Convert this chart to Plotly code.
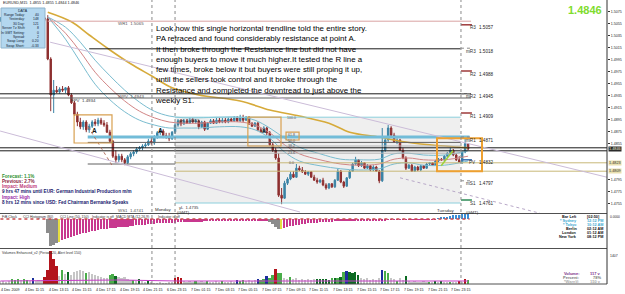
import plotly.graph_objects as go

# ---------------- DATA ----------------
bar_index = list(range(159))

open_ = [1.5061,1.5063,1.5061,1.5059,1.5063,1.5064,1.5063,1.5059,1.5061,1.5063,1.5064,1.5063,1.5061,1.5063,1.5064,1.5063,
         1.5063,1.4996,1.4936,1.4944,1.4941,1.4946,1.4944,1.4948,1.4936,1.4923,
         1.4904,1.4891,1.4883,1.4891,1.4878,1.4884,1.4891,1.4888,1.4894,1.4889,
         1.4886,1.4874,1.4859,1.4834,1.4828,1.4834,1.4828,1.4823,1.4833,1.4838,
         1.4841,1.4846,1.4848,1.4851,1.4853,1.4859,1.4856,1.4866,1.4873,1.4876,
         1.4868,1.4866,1.4863,1.4874,1.4886,1.4893,1.4888,1.4893,1.4889,1.4894,
         1.4891,1.4893,1.4883,1.4891,1.4879,1.4889,1.4893,1.4889,1.4894,1.4891,
         1.4894,1.4891,1.4896,1.4893,1.4898,1.4893,1.4899,1.4894,1.4899,1.4888,
         1.4884,1.4889,1.4878,1.4874,1.4881,1.4873,1.4853,1.4844,1.4831,1.4769,
         1.4764,1.4789,1.4796,1.4804,1.4799,1.4814,1.4811,1.4808,1.4804,1.4808,
         1.4799,1.4794,1.4791,1.4794,1.4786,1.4781,1.4788,1.4783,1.4794,1.4809,
         1.4791,1.4784,1.4798,1.4809,1.4821,1.4828,1.4818,1.4823,1.4814,1.4818,
         1.4811,1.4816,1.4809,1.4793,1.4844,1.4861,1.4881,1.4869,1.4858,1.4861,
         1.4844,1.4831,1.4814,1.4819,1.4809,1.4816,1.4811,1.4818,1.4814,1.4821,
         1.4823,1.4819,1.4826,1.4829,1.4828,1.4834,1.4839,1.4844,1.4836,1.4828,
         1.4824,1.4841,1.4855]
high_ = [1.5066,1.5066,1.5064,1.5064,1.5066,1.5068,1.5066,1.5063,1.5064,1.5066,1.5068,1.5066,1.5064,1.5066,1.5068,1.5066,
         1.5069,1.4999,1.4961,1.4951,1.4949,1.4951,1.4949,1.4951,1.4939,1.4926,
         1.4908,1.4898,1.4894,1.4894,1.4888,1.4894,1.4896,1.4898,1.4898,1.4894,
         1.4891,1.4878,1.4861,1.4844,1.4838,1.4838,1.4831,1.4836,1.4841,1.4844,
         1.4849,1.4851,1.4854,1.4856,1.4863,1.4864,1.4869,1.4876,1.4879,1.4879,
         1.4873,1.4873,1.4876,1.4889,1.4896,1.4896,1.4896,1.4896,1.4898,1.4898,
         1.4896,1.4894,1.4893,1.4893,1.4891,1.4896,1.4896,1.4898,1.4898,1.4898,
         1.4898,1.4899,1.4899,1.4901,1.4901,1.4903,1.4903,1.4901,1.4901,1.4891,
         1.4891,1.4891,1.4881,1.4884,1.4883,1.4876,1.4856,1.4848,1.4839,1.4781,
         1.4793,1.4799,1.4808,1.4809,1.4821,1.4818,1.4816,1.4811,1.4809,1.4809,
         1.4803,1.4798,1.4796,1.4798,1.4789,1.4789,1.4789,1.4796,1.4813,1.4811,
         1.4793,1.4799,1.4811,1.4823,1.4833,1.4829,1.4826,1.4824,1.4821,1.4819,
         1.4819,1.4818,1.4811,1.4881,1.4863,1.4886,1.4884,1.4873,1.4864,1.4863,
         1.4848,1.4834,1.4821,1.4821,1.4818,1.4818,1.4819,1.4819,1.4823,1.4824,
         1.4824,1.4828,1.4831,1.4831,1.4836,1.4841,1.4848,1.4846,1.4839,1.4834,
         1.4826,1.4863,1.4855]
low_ = [1.5058,1.5059,1.5058,1.5056,1.5059,1.5061,1.5058,1.5056,1.5058,1.5059,1.5061,1.5059,1.5058,1.5059,1.5061,1.5059,
        1.4994,1.4909,1.4906,1.4939,1.4938,1.4941,1.4939,1.4934,1.4921,1.4901,
        1.4884,1.4879,1.4878,1.4874,1.4873,1.4881,1.4884,1.4884,1.4886,1.4883,
        1.4873,1.4856,1.4831,1.4823,1.4824,1.4824,1.4819,1.4821,1.4829,1.4834,
        1.4838,1.4843,1.4844,1.4848,1.4851,1.4853,1.4853,1.4863,1.4869,1.4864,
        1.4863,1.4859,1.4861,1.4871,1.4883,1.4884,1.4886,1.4888,1.4888,1.4889,
        1.4888,1.4879,1.4881,1.4876,1.4878,1.4888,1.4888,1.4888,1.4889,1.4889,
        1.4889,1.4889,1.4891,1.4891,1.4891,1.4891,1.4891,1.4893,1.4886,1.4883,
        1.4883,1.4876,1.4873,1.4873,1.4869,1.4851,1.4841,1.4828,1.4766,1.4754,
        1.4763,1.4786,1.4794,1.4798,1.4798,1.4809,1.4806,1.4803,1.4801,1.4798,
        1.4793,1.4788,1.4789,1.4784,1.4778,1.4779,1.4781,1.4781,1.4793,1.4789,
        1.4781,1.4783,1.4796,1.4808,1.4819,1.4816,1.4816,1.4813,1.4813,1.4809,
        1.4809,1.4808,1.4789,1.4791,1.4841,1.4858,1.4868,1.4856,1.4854,1.4843,
        1.4829,1.4811,1.4813,1.4808,1.4808,1.4809,1.4809,1.4813,1.4813,1.4818,
        1.4818,1.4818,1.4824,1.4826,1.4826,1.4833,1.4838,1.4834,1.4826,1.4823,
        1.4821,1.4839,1.4844]
close_ = [1.5063,1.5061,1.5059,1.5063,1.5064,1.5063,1.5059,1.5061,1.5063,1.5064,1.5063,1.5061,1.5063,1.5064,1.5063,1.5063,
          1.4996,1.4936,1.4944,1.4941,1.4946,1.4944,1.4948,1.4936,1.4923,1.4904,
          1.4891,1.4883,1.4891,1.4878,1.4884,1.4891,1.4888,1.4894,1.4889,1.4886,
          1.4874,1.4859,1.4834,1.4828,1.4834,1.4828,1.4823,1.4833,1.4838,1.4841,
          1.4846,1.4848,1.4851,1.4853,1.4859,1.4856,1.4866,1.4873,1.4876,1.4868,
          1.4866,1.4863,1.4874,1.4886,1.4893,1.4888,1.4893,1.4889,1.4894,1.4891,
          1.4893,1.4883,1.4891,1.4879,1.4889,1.4893,1.4889,1.4894,1.4891,1.4894,
          1.4891,1.4896,1.4893,1.4898,1.4893,1.4899,1.4894,1.4899,1.4888,1.4884,
          1.4889,1.4878,1.4874,1.4881,1.4873,1.4853,1.4844,1.4831,1.4769,1.4764,
          1.4789,1.4796,1.4804,1.4799,1.4814,1.4811,1.4808,1.4804,1.4808,1.4799,
          1.4794,1.4791,1.4794,1.4786,1.4781,1.4788,1.4783,1.4794,1.4809,1.4791,
          1.4784,1.4798,1.4809,1.4821,1.4828,1.4818,1.4823,1.4814,1.4818,1.4811,
          1.4816,1.4809,1.4793,1.4844,1.4861,1.4881,1.4869,1.4858,1.4861,1.4844,
          1.4831,1.4814,1.4819,1.4809,1.4816,1.4811,1.4818,1.4814,1.4821,1.4823,
          1.4819,1.4826,1.4829,1.4828,1.4834,1.4839,1.4844,1.4836,1.4828,1.4824,
          1.4841,1.4855,1.4846]

# moving averages (sparse readings)
ma_slow_idx = [16,24,30,37,44,51,58,67,81,91,101,111,118,128,135,145,158]
ma_slow = [1.5074,1.5058,1.5036,1.5011,1.4988,1.4968,1.4948,1.4936,1.4926,1.4911,1.4901,1.4889,1.4874,1.4866,1.4859,1.4853,1.4848]
rib_idx = [16,22,27,32,37,42,47,52,57,62,67,74,81,86,91,96,101,108,115,121,128,133,138,143,150,158]
rib_mid = [1.5066,1.5039,1.5008,1.4974,1.4948,1.4926,1.4909,1.4898,1.4891,1.4889,1.4889,1.4891,1.4891,1.4886,1.4873,1.4853,1.4838,1.4828,1.4821,1.4819,1.4821,1.4829,1.4831,1.4828,1.4828,1.4834]
rib_up = [1.5066,1.5049,1.5024,1.4994,1.4968,1.4944,1.4924,1.4909,1.4901,1.4898,1.4898,1.4899,1.4899,1.4894,1.4881,1.4864,1.4849,1.4838,1.4829,1.4828,1.4829,1.4838,1.4839,1.4836,1.4836,1.4843]
rib_lo = [1.5066,1.5029,1.4991,1.4954,1.4928,1.4908,1.4894,1.4886,1.4881,1.4881,1.4881,1.4883,1.4883,1.4878,1.4864,1.4841,1.4826,1.4818,1.4813,1.4811,1.4813,1.4821,1.4823,1.4819,1.4819,1.4826]

# indicator histogram
hist = [0]*16 + [-70,-135,-130,-120,-115,-105,-100,-95,-90,-85,
        -80,-75,-70,-68,-65,-60,-58,-55,-52,-50,
        -48,-45,-45,-45,-42,-40,-40,-38,-35,-35,
        -32,-30,-30,-28,-25,-25,-25,-22,-22,-20,
        -20,-20,-18,-18,-15,-15,-15,-14,-14,-14,
        -13,-13,-13,-12,-12,-12,-12,-11,-11,-11,
        -10,-10,-10,-10,-10,-9,-9,-9,-9,-9,
        -9,-8,-8,-8,-8,-15,-25,-40,-50,-50,
        -45,-40,-36,-33,-30,-28,-26,-24,-22,-20,
        -19,-18,-17,-16,-15,-14,-13,-12,-11,-10,
        -10,-9,-9,-9,-8,-8,-8,-8,-7,-7,
        -7,-7,-6,-6,-6,-5,-5,-5,-5,-5,
        -4,-4,-4,-4,-4,-3,-3,-3,-3,-3,
        -2,-2,5,8,10,12,15,18,20,22,
        25,25,28]
hist_state = ['m']*16 + ['g']*4 + ['y'] + ['m']*70 + ['g']*4 + ['y'] + ['m']*52 + ['b']*11

# volumes
volume = [120,120,80,120,200,160,200,160,200,160,120,240,120,160,120,280,
          560,1320,1000,720,320,560,400,480,360,480,
          520,560,520,440,480,400,360,320,280,240,
          240,360,400,320,280,240,280,200,160,160,
          120,200,120,80,160,80,40,40,80,40,
          40,80,80,240,280,240,120,80,120,80,
          120,80,120,80,120,80,80,120,80,120,
          80,80,120,80,160,120,160,120,160,120,
          160,200,160,200,320,240,360,600,440,440,
          240,200,280,200,240,160,200,160,200,160,
          200,200,200,200,200,160,240,240,240,280,
          480,520,480,440,480,360,240,200,240,160,
          200,160,240,560,520,440,240,200,120,240,
          160,320,120,80,120,80,80,120,80,80,
          80,120,80,120,80,80,80,80,80,120,
          80,200,160]
volume_state = list("ggggGGGgGGgBgggR" "RRRRgGgDgg" "gggGgggggg" "gGGDgggggG" "gDggDggggg"
                    "gggRRRgggg" "GgggGggggG" "ggggBGGggg" "gBGGBGGRGG" "ggGggggggg"
                    "gDDDDDGDGD" "GBDDDDgggg" "gggBGGggGg" "gDgggggggG" "gDgDggGggR" "gRG")
vol_ma_idx = [0,16,25,40,60,90,120,140,158]
vol_ma = [120,140,170,160,120,110,130,120,120]

# pivot levels (line position) and their labels
piv_names = ["R3","mR3","R2","mR2","R1","mR1","PV","mS1","S1"]
piv_values = ["1.5057","1.5018","1.4988","1.4945","1.4909","1.4871","1.4832","1.4797","1.4761"]
piv_levels = [1.5053,1.5014,1.4976,1.4938,1.4906,1.4866,1.4828,1.4793,1.4761]

# horizontal trader lines: level, start bar, end bar, kind
hl_level = [1.5059,1.5013,1.4938,1.4931,1.4899,1.4866,1.4857,1.4851,1.4848,1.4843,1.4839,1.4823,1.4821,1.4809,1.4756]
hl_start = [16,30,-1,-1,59,29.5,29.5,59,-1,-1,59,59,29.5,59,59]
hl_end   = [159,155.5,159,159,155.5,158.5,155.5,155.5,206,206,155.5,206,59,206,155.5]
hl_kind  = ["pink","black","black","dgray","cyan","thick","dgray","lgray","black","black","lgray","tan","dgray","tan","cyan"]

# rectangles: start bar, end bar, top, bottom
box_x0 = [24.9,83.6,147.5,96.5]
box_x1 = [37.7,94.8,162.7,100.9]
box_top = [1.4903,1.4899,1.4864,1.4874]
box_bot = [1.4856,1.4851,1.4809,1.4861]
range_rect = (59, 155.3, 1.4899, 1.4756)

# diagonal lines: (bar0, price0, bar1, price1)
diag_lines = [(16.8,1.5024,204.9,1.4799),(-0.1,1.4876,101.2,1.4741),(135,1.4798,182.3,1.4739)]
red_dotted = (29.6,1.4883,37.7,1.4819)
lime_line = (148.9,1.4818,152.9,1.4843)

fib_labels = ["100.0","61.8","50.0","38.2","23.6","0.0"]
fib_levels = [1.4898,1.4869,1.4859,1.4851,1.4839,1.4823]

day_separators = [51.2,59.0,155.6]

xtick_idx = [0,8,16,24,32,40,48,56,64,72,80,88,96,104,112,120,128,136,144,152]
xtick_txt = ["4 Dec 2009","4 Dec 11:15","4 Dec 13:15","4 Dec 15:15","4 Dec 17:15","4 Dec 19:15","4 Dec 21:15",
             "6 Dec 23:15","7 Dec 01:15","7 Dec 03:15","7 Dec 05:15","7 Dec 07:15","7 Dec 09:15","7 Dec 11:15",
             "7 Dec 13:15","7 Dec 15:15","7 Dec 17:15","7 Dec 19:15","7 Dec 21:15","7 Dec 23:15"]
ytick_vals = [1.5075,1.5055,1.5035,1.5015,1.4995,1.4975,1.4955,1.4935,1.4915,1.4895,1.4875,1.4855,1.4795,1.4775,1.4755]

# ---------------- LAYOUT HELPERS ----------------
PW, PH = 607.0, 284.0
def px(x): return x / PW
def py(y): return 1 - y / PH
XR = [-0.135, 204.93]
FONT = "Liberation Sans"

fig = go.Figure()

# candles
fig.add_trace(go.Candlestick(x=bar_index, open=open_, high=high_, low=low_, close=close_,
    increasing=dict(line=dict(color="#3a83a5", width=1), fillcolor="#3a83a5"),
    decreasing=dict(line=dict(color="#8e2f2f", width=1), fillcolor="#8e2f2f"),
    whiskerwidth=0, xaxis="x", yaxis="y", hoverinfo="skip"))

# MAs
fig.add_trace(go.Scatter(x=ma_slow_idx, y=ma_slow, mode="lines", line=dict(color="#d6aa3a", width=1.6, shape="spline"), xaxis="x", yaxis="y"))
fig.add_trace(go.Scatter(x=rib_idx, y=rib_up, mode="lines", line=dict(color="#79bccf", width=1, shape="spline"), xaxis="x", yaxis="y"))
fig.add_trace(go.Scatter(x=rib_idx, y=rib_mid, mode="lines", line=dict(color="#d28585", width=1, shape="spline"), xaxis="x", yaxis="y"))
fig.add_trace(go.Scatter(x=rib_idx, y=rib_lo, mode="lines", line=dict(color="#79bccf", width=1, shape="spline"), xaxis="x", yaxis="y"))

# indicator histogram
hcol = {"g": "#8c8c8c", "y": "#e4dc40", "m": "#c8388f", "b": "#3a8fd8"}
fig.add_trace(go.Bar(x=bar_index, y=hist, marker=dict(color=[hcol[s] for s in hist_state], line=dict(width=0)),
                     width=0.6, xaxis="x2", yaxis="y2"))

# volumes
vcol = {"g": "#c6c6c6", "G": "#4aae4a", "D": "#0c6b22", "R": "#b3141c", "B": "#1c2f9c"}
fig.add_trace(go.Bar(x=bar_index, y=volume, marker=dict(color=[vcol[s] for s in volume_state], line=dict(width=0)),
                     width=0.6, xaxis="x3", yaxis="y3"))
fig.add_trace(go.Scatter(x=vol_ma_idx, y=vol_ma, mode="lines", line=dict(color="#c63cc6", width=1), xaxis="x3", yaxis="y3"))

shapes = []
# range rect
r = range_rect
shapes.append(dict(type="rect", xref="x", yref="y", x0=r[0], x1=r[1], y0=r[3], y1=r[2],
                   fillcolor="#efefef", line=dict(width=0), layer="below"))
# hlines
kind_style = {"pink": ("#d9a3a3", 1, "solid"), "black": ("#1a1a1a", 1, "solid"), "dgray": ("#606060", 1, "solid"),
              "cyan": ("#8ccfdc", 1, "solid"), "thick": ("#72bcd8", 3, "solid"), "lgray": ("#b4b4b4", 1, "solid"),
              "tan": ("#c8b878", 1, "solid")}
for lv, a, b, k in zip(hl_level, hl_start, hl_end, hl_kind):
    c, w, d = kind_style[k]
    shapes.append(dict(type="line", xref="x", yref="y", x0=a, x1=b, y0=lv, y1=lv, line=dict(color=c, width=w, dash=d)))
# diagonals
for (a, pa, b, pb) in diag_lines[:2]:
    shapes.append(dict(type="line", xref="x", yref="y", x0=a, x1=b, y0=pa, y1=pb, line=dict(color="#cbbcd8", width=1)))
a, pa, b, pb = diag_lines[2]
shapes.append(dict(type="line", xref="x", yref="y", x0=a, x1=b, y0=pa, y1=pb, line=dict(color="#b8a8c8", width=1, dash="dot")))
a, pa, b, pb = red_dotted
shapes.append(dict(type="line", xref="x", yref="y", x0=a, x1=b, y0=pa, y1=pb, line=dict(color="#b07060", width=1, dash="dot")))
a, pa, b, pb = lime_line
shapes.append(dict(type="line", xref="x", yref="y", x0=a, x1=b, y0=pa, y1=pb, line=dict(color="#9fd23a", width=1.5)))
# boxes
for k, (a, b, t, bt) in enumerate(zip(box_x0, box_x1, box_top, box_bot)):
    w = 2 if k == 2 else 1.2
    col = "#eea030" if k == 2 else "#d8a050"
    shapes.append(dict(type="rect", xref="x", yref="y", x0=a, x1=b, y0=bt, y1=t, line=dict(color=col, width=w)))
# pivot segments
pcol = {"R": "#9e3a3a", "m": "#8a8a8a", "P": "#3a6fb0", "S": "#2e8b57"}
for n, lv in zip(piv_names, piv_levels):
    c = pcol[n[0]]
    shapes.append(dict(type="line", xref="x", yref="y", x0=155.6, x1=159.3, y0=lv, y1=lv,
                       line=dict(color=c, width=1.5 if n[0] != "m" else 1, dash="dot" if n[0] == "m" else "solid")))
# day separators
for s in day_separators:
    shapes.append(dict(type="line", xref="x", yref="paper", x0=s, x1=s, y0=0, y1=1, line=dict(color="#8a8a8a", width=1, dash="dot")))
# indicator zero dotted
shapes.append(dict(type="line", xref="x2", yref="y2", x0=0, x1=158.5, y0=0, y1=0, line=dict(color="#c84a4a", width=1.5, dash="dot")))
# data box
shapes.append(dict(type="rect", xref="paper", yref="paper", x0=px(1), x1=px(45), y0=py(48), y1=py(8),
                   fillcolor="#b3d7ef", line=dict(color="#8fb4cc", width=1), layer="above"))
# panel borders
for yy in [213.5, 248.5, 284]:
    shapes.append(dict(type="line", xref="paper", yref="paper", x0=0, x1=1, y0=py(yy), y1=py(yy), line=dict(color="#505050", width=1)))
shapes.append(dict(type="line", xref="paper", yref="paper", x0=1, x1=1, y0=0, y1=1, line=dict(color="#303030", width=1)))

ann = []
def T(x, y, text, size=4, color="#000000", xa="left", ya="middle", bold=False, bg=None, xref="paper", yref="paper", yshift=0):
    d = dict(x=x, y=y, xref=xref, yref=yref, text=("<b>%s</b>" % text) if bold else text, showarrow=False,
             xanchor=xa, yanchor=ya, align=xa if xa in ("left", "right") else "center",
             font=dict(family=FONT, size=size, color=color), borderpad=0, yshift=yshift)
    if bg:
        d["bgcolor"] = bg
    ann.append(d)

# header
T(px(2), py(3), "EURUSD,M15  1.4855 1.4855 1.4844 1.4846", 3.8, "#222")
# data box text
T(px(23), py(11), "DATA", 3.6, "#123", xa="center")
dl = ["Range Today:", "Yesterday:", "30 Day:", "Server Tz Shift:", "In GMT Setting:", "Spread:", "Swap Long:", "Swap Short:"]
dv = ["40", "148", "121", "8", "0", "2", "0.20", "-0.33"]
for k, (l, v) in enumerate(zip(dl, dv)):
    yy = 15 + k * 4.4
    T(px(26), py(yy), l, 3.4, "#123", xa="right")
    T(px(40), py(yy), v, 3.4, "#123", xa="right")

# main story text
story = ["Look how this single horizontal trendline told the entire story.",
         "PA retraced and found considerably resistance at point A.",
         "It then broke through the Resistance line but did not have",
         "enough buyers to move it much higher.It tested the R line a",
         "few times, broke below it but buyers were still proping it up,",
         "until the sellers took control and it broke through the",
         "Resistance and completed the downtread to just above the",
         "weekly S1."]
T(px(154), py(23), "<br>".join(story), 7.9, "#000", ya="top")

# current price big
T(px(603), py(10), "1.4846", 11, "#7fdc2e", xa="right", bold=True)

# pivot labels
for n, v, lv in zip(piv_names, piv_values, piv_levels):
    T(160.9, lv, n, 4.6, "#333", xa="right", xref="x", yref="y", yshift=-3)
    T(161.5, lv, v, 4.6, "#222", xa="left", xref="x", yref="y", yshift=-3)

# left labels
T(px(117), py(23), "WR1  1.5065", 4.4, "#555")
T(px(117), py(96), "WPV  1.4943", 4.4, "#555")
T(px(70), py(100), "FPV  1.4934", 4.4, "#333")
T(px(117), py(210), "WS1  1.4741", 4.4, "#555")
T(px(178), py(120), "yH  1.4863", 4.2, "#333")
T(px(178), py(207), "yL  1.4735", 4.2, "#333")
T(px(154), py(209), "Monday", 4.4, "#333")
T(px(176), py(212), "(GMT)", 4.2, "#333")
T(px(436), py(210), "Tuesday", 4.4, "#333")
T(px(465), py(212), "(GMT)", 4.2, "#333")
T(px(91), py(131), "A", 6.5, "#111", bold=True)
T(px(157), py(131), "A", 6.5, "#111", bold=True)
T(px(261), py(131), "A", 5.5, "#111", bold=True)

# fib labels
for f, lv in zip(fib_labels, fib_levels):
    T(98.5, lv, f, 3.6, "#555", xa="center", xref="x", yref="y")

# news block
news = [("Forecast: 1.1%", "#2d8f2d", 176), ("Previous: 2.7%", "#8a2240", 181), ("Impact: Medium", "#c03a7a", 186),
        ("9 hrs 47 mins until EUR: German Industrial Production m/m", "#16206e", 191),
        ("Impact: High", "#9a2aa8", 197), ("8 hrs 12 mins since USD: Fed Chairman Bernanke Speaks", "#16206e", 202)]
for t, c, yy in news:
    T(px(1), py(yy), t, 4.6, c, bold=True)

# right axis highlighted labels
T(px(608), 1.4846, "1.4846", 3.8, "#f0f0d0", bg="#2a2a2a", xref="paper", yref="y")
T(px(608), 1.4823, "1.4823", 3.8, "#333", bg="#e9e0b0", xref="paper", yref="y")
T(px(608), 1.4809, "1.4809", 3.8, "#333", bg="#e9e0b0", xref="paper", yref="y")

# indicator labels
for t, x in [("FiB Clock", 1), ("CCI Histogram (80)", 22), ("CCI Line (50, 150)", 59), ("Indicator is off", 91),
             ("MACD MTA (12,26,9)", 115), ("Indicator is off", 157)]:
    T(px(x), py(217), t, 3.5, "#333")
clock = [("Bar Left", "[02:50]", "#111"), ("* Sydney", "12:12 PM", "#3aa9d0"), ("* Tokyo", "10:12 AM", "#3aa9d0"),
         ("Berlin", "02:12 AM", "#111"), ("London", "01:12 AM", "#111"), ("New York", "08:12 PM", "#111")]
for k, (a, b, c) in enumerate(clock):
    yy = 217 + k * 4.0
    T(px(578), py(yy), a, 3.8, c, xa="right", bold=True)
    T(px(586), py(yy), b, 3.8, c, bold=True)
T(px(609), py(217), "0.0000", 3.2, "#222")

# volume labels
T(px(1), py(253), "Volumes Enhanced_v2 (Period=20, Alert level 150)", 3.5, "#333")
vt = [("Volume:", "117 v", "#7a2a8a", 273), ("Percent:", "78%", "#777", 277), ("*WarnV:", "150 v", "#aaa", 281)]
for a, b, c, yy in vt:
    T(px(580), py(yy), a, 4, c, xa="right", bold=True)
    T(px(602), py(yy), b, 4, c, xa="right", bold=True)
T(px(609), py(256), "1407", 3.4, "#222")

# x tick labels
for i, t in zip(xtick_idx, xtick_txt):
    T(i, -0.012, t, 3.6, "#111", xref="x3", ya="top")

fig.update_layout(
    width=625, height=294, margin=dict(l=0, r=18, t=0, b=10),
    paper_bgcolor="white", plot_bgcolor="white", showlegend=False,
    bargap=0,
    xaxis=dict(domain=[0, 1], range=XR, visible=False, anchor="y", rangeslider=dict(visible=False)),
    xaxis2=dict(domain=[0, 1], range=XR, visible=False, anchor="y2"),
    xaxis3=dict(domain=[0, 1], range=XR, visible=False, anchor="y3"),
    yaxis=dict(domain=[py(213), 1], range=[1.473933, 1.509433], side="right", anchor="x",
               tickvals=ytick_vals, ticktext=["%.4f" % v for v in ytick_vals],
               tickfont=dict(family=FONT, size=3.6, color="#222"), ticks="outside", ticklen=2, tickcolor="#333",
               showgrid=False, zeroline=False, showline=False),
    yaxis2=dict(domain=[py(247), py(214)], range=[-140, 25], anchor="x2", visible=False),
    yaxis3=dict(domain=[0, py(249)], range=[0, 1400], anchor="x3", visible=False),
    shapes=shapes, annotations=ann,
)
fig.write_html("out.html")
